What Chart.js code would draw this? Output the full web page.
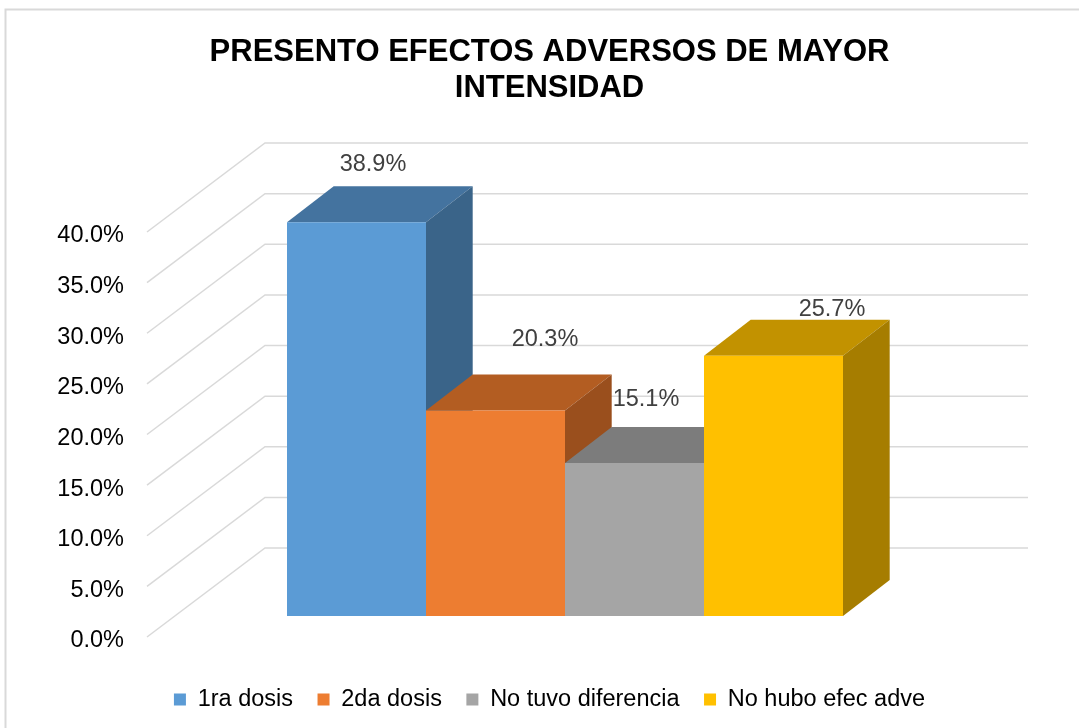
<!DOCTYPE html>
<html lang="es">
<head>
<meta charset="utf-8">
<title>Presento efectos adversos de mayor intensidad</title>
<script src="https://cdn.jsdelivr.net/npm/chart.js@4.4.1/dist/chart.umd.min.js"></script>
<style>
  html, body { margin: 0; padding: 0; background: #fff; overflow: hidden; }
  #wrap { width: 1079px; height: 728px; position: relative; }
</style>
</head>
<body>
<div id="wrap"><canvas id="grafico"></canvas></div>
<script>
// Datos del gráfico
const categorias = [""];
const series = ["1ra dosis", "2da dosis", "No tuvo diferencia", "No hubo efec adve"];
const valores = [38.9, 20.3, 15.1, 25.7];
const ticksY = [0, 5, 10, 15, 20, 25, 30, 35, 40];
const titulo = ["PRESENTO EFECTOS ADVERSOS DE MAYOR", "INTENSIDAD"];

// Colores: cara frontal, superior y lateral
const colorFrente = ["#5B9BD5", "#ED7D31", "#A5A5A5", "#FFC000"];
const colorArriba = ["#44739F", "#B35D22", "#7C7C7C", "#C29200"];
const colorLado = ["#3A6489", "#9A4F1D", "#6B6B6B", "#A67D00"];

const FUENTE = "'Liberation Sans', Arial, sans-serif";

// Profundidad de las barras y planos de la cuadrícula (px)
const DX = 46.7, DY = -36;
const FX = -36.5, FY = 21;   // extremo frontal de la cuadrícula
const BX = 81.5, BY = -68;   // pared del fondo

// Posición de cada etiqueta respecto al centro superior de la cara frontal
const desplazEtiqueta = [[16.5, -58], [49.5, -71], [11.5, -64], [58.5, -46]];

function poligono(ctx, color, puntos) {
  ctx.fillStyle = color;
  ctx.beginPath();
  puntos.forEach(([px, py], i) => (i ? ctx.lineTo(px, py) : ctx.moveTo(px, py)));
  ctx.closePath();
  ctx.fill();
}

const efecto3d = {
  id: "efecto3d",
  beforeDraw(chart) {
    const ctx = chart.ctx;
    ctx.save();
    ctx.fillStyle = "#fff";
    ctx.fillRect(0, 0, chart.width, chart.height);
    ctx.strokeStyle = "#d9d9d9";
    ctx.lineWidth = 2;
    ctx.strokeRect(5.5, 9.5, chart.width + 20, chart.height + 20);
    ctx.restore();
  },
  beforeDatasetsDraw(chart) {
    const { ctx, chartArea: a, scales: { y } } = chart;
    ctx.save();
    // cuadrícula: diagonal del suelo + línea de la pared del fondo
    ctx.strokeStyle = "#d9d9d9";
    ctx.lineWidth = 1.5;
    ticksY.forEach((v) => {
      const py = y.getPixelForValue(v);
      ctx.beginPath();
      ctx.moveTo(a.left + FX, py + FY);
      ctx.lineTo(a.left + BX, py + BY);
      ctx.lineTo(a.right + BX, py + BY);
      ctx.stroke();
    });
    // caras superior y lateral de cada barra
    chart.data.datasets.forEach((ds, i) => {
      const bar = chart.getDatasetMeta(i).data[0];
      const { x, y: top, base, width } = bar.getProps(["x", "y", "base", "width"], true);
      const l = x - width / 2;
      const r = x + width / 2;
      poligono(ctx, colorArriba[i], [[l, top], [l + DX, top + DY], [r + DX, top + DY], [r, top]]);
      poligono(ctx, colorLado[i], [[r, top], [r + DX, top + DY], [r + DX, base + DY], [r, base]]);
    });
    ctx.restore();
  },
  afterDatasetsDraw(chart) {
    const ctx = chart.ctx;
    ctx.save();
    ctx.font = "23.5px " + FUENTE;
    ctx.fillStyle = "#404040";
    ctx.textAlign = "center";
    ctx.textBaseline = "middle";
    chart.data.datasets.forEach((ds, i) => {
      const bar = chart.getDatasetMeta(i).data[0];
      const { x, y } = bar.getProps(["x", "y"], true);
      ctx.fillText(valores[i].toFixed(1) + "%", x + desplazEtiqueta[i][0], y + desplazEtiqueta[i][1]);
    });
    ctx.restore();
  },
};

const ctx = document.getElementById("grafico").getContext("2d");

new Chart(ctx, {
  type: "bar",
  data: {
    labels: categorias,
    datasets: series.map((nombre, i) => ({
      label: nombre,
      data: [valores[i]],
      backgroundColor: colorFrente[i],
      borderWidth: 0,
      categoryPercentage: 0.7287,
      barPercentage: 1,
    })),
  },
  options: {
    responsive: true,
    maintainAspectRatio: false,
    animation: false,
    layout: { padding: { left: 20, right: 0, top: 0, bottom: 6.75 } },
    scales: {
      x: {
        grid: { display: false },
        border: { display: false },
        ticks: { display: false },
        afterFit: (s) => { s.height = 47.25; },
      },
      y: {
        position: "left",
        min: 0,
        max: 40,
        grid: { display: false, drawTicks: false },
        border: { display: false },
        afterBuildTicks: (s) => { s.ticks = ticksY.map((v) => ({ value: v })); },
        ticks: {
          padding: 59.5,
          labelOffset: 25,
          color: "#000",
          font: { family: FUENTE, size: 23.5 },
          callback: (v) => Number(v).toFixed(1) + "%",
        },
        afterFit: (s) => { s.width = 163.5; },
      },
      y2: {
        position: "right",
        grid: { display: false, drawTicks: false },
        border: { display: false },
        ticks: { display: false },
        afterFit: (s) => { s.width = 132.5; },
      },
    },
    plugins: {
      title: {
        display: true,
        text: titulo,
        color: "#000",
        font: { family: FUENTE, size: 31, weight: "bold", lineHeight: 36 / 31 },
        padding: { top: 34, bottom: 105 },
      },
      legend: {
        display: true,
        position: "bottom",
        labels: {
          boxWidth: 12,
          boxHeight: 12,
          padding: 24.5,
          color: "#000",
          font: { family: FUENTE, size: 23.5 },
        },
      },
      tooltip: { enabled: false },
    },
  },
  plugins: [efecto3d],
});
</script>
</body>
</html>
